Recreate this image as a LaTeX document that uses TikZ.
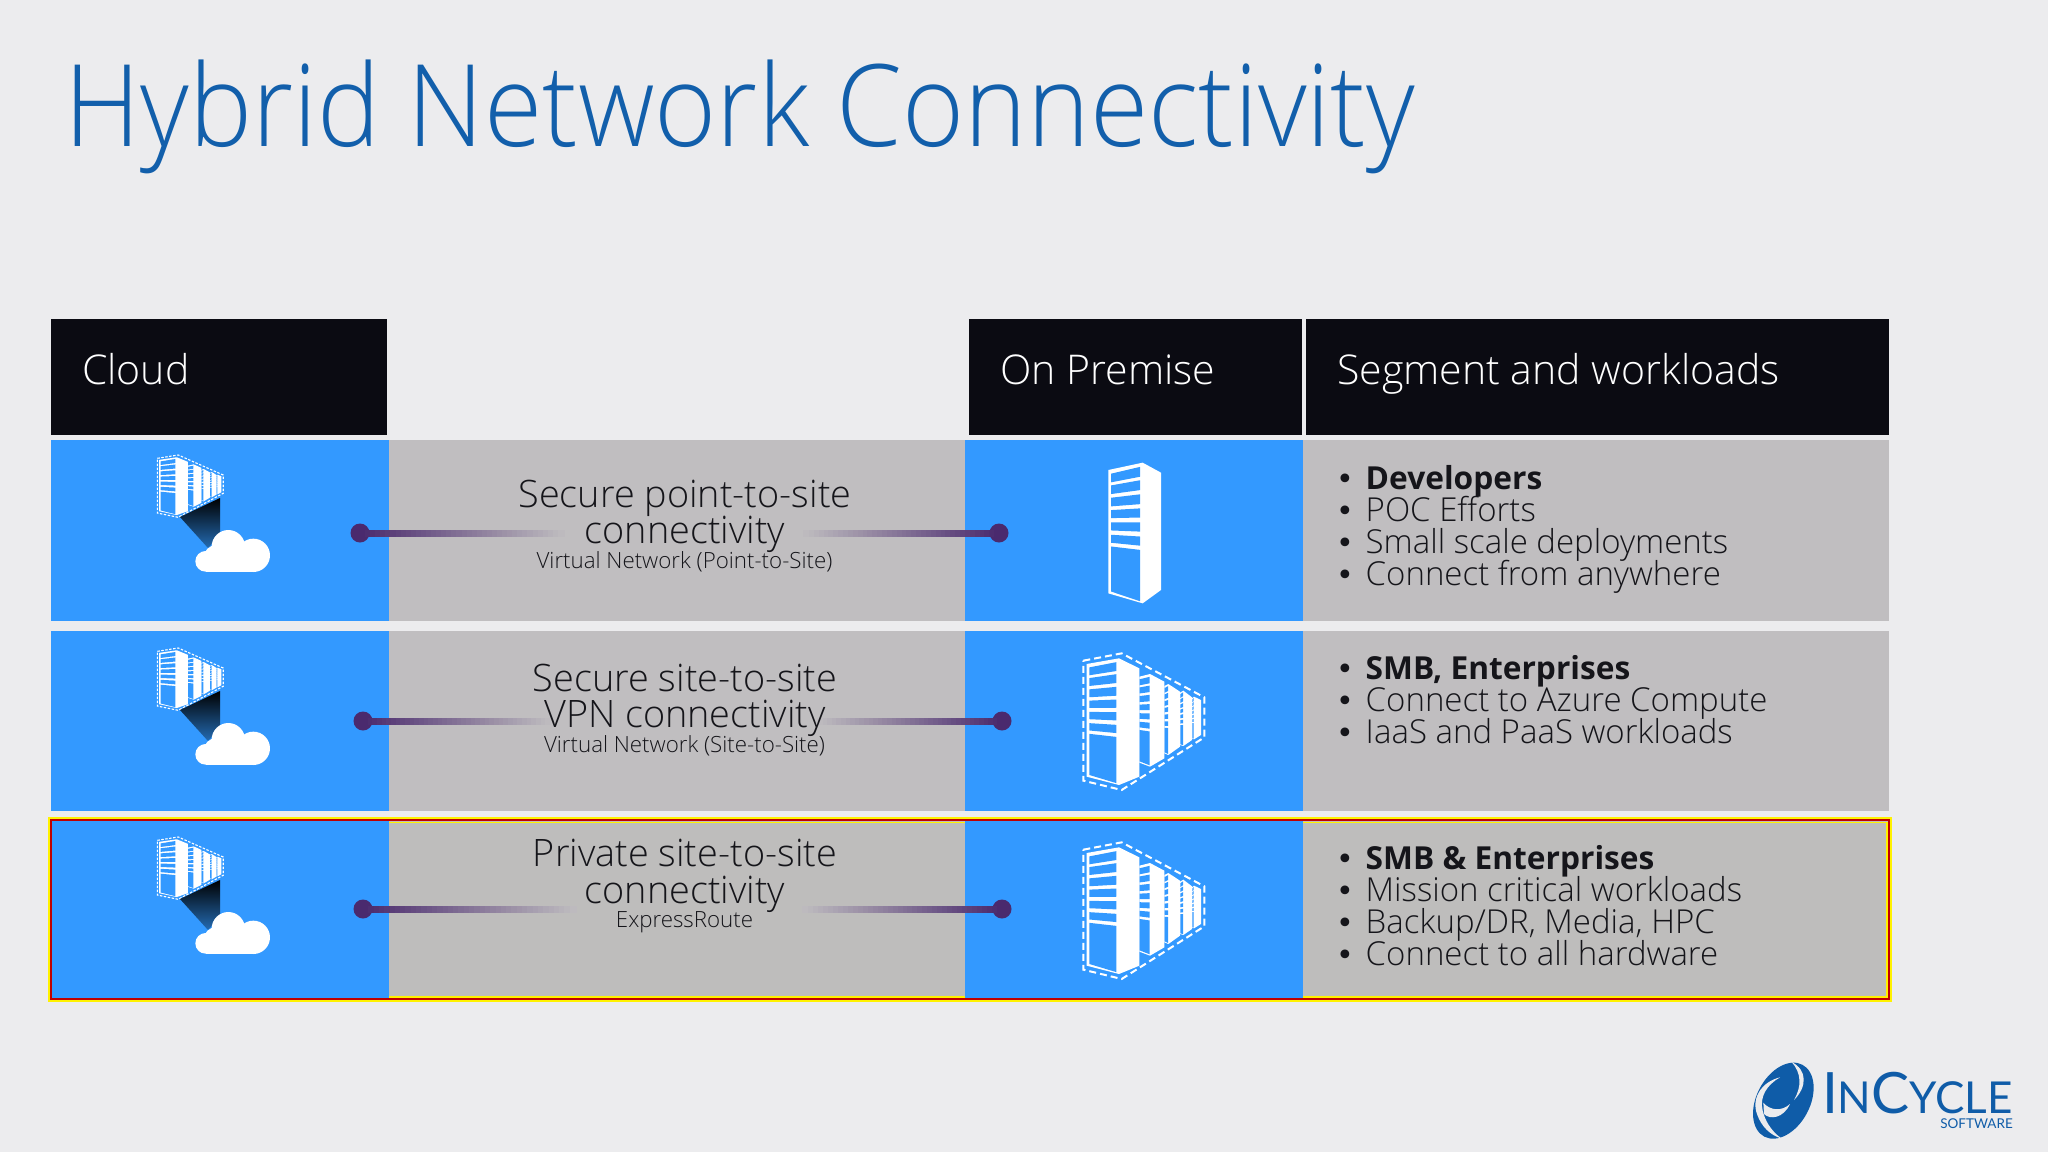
\documentclass[tikz,border=0pt]{standalone}
\usepackage{fontspec}
\usetikzlibrary{calc}
\setmainfont{Open Sans}
\newfontfamily\lightf{Open Sans Light}
\newfontfamily\titlef{Open Sans Light}[FakeStretch=0.93]
\newfontfamily\bullf{DejaVu Sans}
\newfontfamily\logof{Lato}
\definecolor{pagebg}{HTML}{ECECEE}
\definecolor{azure}{HTML}{3399FF}
\definecolor{band}{HTML}{C0BEC0}
\definecolor{bandhi}{HTML}{BEBDBC}
\definecolor{hdr}{HTML}{0B0B12}
\definecolor{titleblue}{HTML}{125FAB}
\definecolor{ink}{HTML}{15151A}
\definecolor{plum}{HTML}{4A2A6E}
\definecolor{logoblue}{HTML}{0F5CA8}
\newcommand{\rackicon}[9]{%
  \fill[white] (#1,#4)--(#2,#5)--(#3,#6)--(#3,#9)--(#2,#8)--(#1,#7)--cycle;
  \foreach \a/\b in {.03/.1,.125/.195,.225/.295,.325/.39,.425/.49,.525/.59,.62/.985}{%
    \fill[azure] ({#1+\rackinset},{#4+(#7-#4)*\a})--({#2-\rackinset},{#5+(#8-#5)*\a})--({#2-\rackinset},{#5+(#8-#5)*\b})--({#1+\rackinset},{#4+(#7-#4)*\b})--cycle;}}
\newcommand{\rackinset}{8}
\newcommand{\farm}[1]{%
  \draw[white,#1] (130,62)--(245,40)--(493,172)--(493,292)--(245,450)--(130,422)--cycle;
  \rackicon{140}{237}{298}{72}{55}{85}{410}{435}{410}
  \renewcommand{\rackinset}{1}
  \rackicon{298}{330}{373}{110}{102}{125}{368}{380}{355}
  \rackicon{373}{385}{420}{138}{132}{155}{340}{345}{320}
  \rackicon{420}{430}{456}{158}{152}{172}{315}{318}{300}
  \rackicon{456}{462}{483}{175}{170}{180}{295}{298}{285}
  \renewcommand{\rackinset}{8}}
\newcommand{\cloudicon}[1]{%
  \begin{scope}[shift={(0,#1)}]
    \begin{scope}[shift={(133.7,448.9)},xscale=.1817,yscale=.152]
      \farm{line width=1.1pt,dash pattern=on 2.5pt off 1.5pt}
    \end{scope}
    \shade[top color=black,middle color=black!78!azure,bottom color=azure!70!black] (180,517)--(220,498)--(220,535)--(208,548)--cycle;
    \begin{scope}[shift={(40,430)},scale=1/3]
      \fill[white] (565,350) circle[radius=50];
      \fill[white] (640,376) circle[radius=50];
      \fill[white] (497,394) circle[radius=31];
      \fill[white] (530,385) circle[radius=40];
      \fill[white] (497,385) rectangle (640,426);
    \end{scope}
  \end{scope}}
\newcommand{\fadelink}[2]{%
  \foreach \k in {0,...,39}{%
    \pgfmathsetmacro{\tA}{\k/40}
    \pgfmathsetmacro{\tB}{(\k+1.3)/40}
    \pgfmathsetmacro{\mixv}{100*(1-\k/40)}
    \draw[line width=7pt,draw=plum!\mixv!band] ($(#1)!\tA!(#2)$) -- ($(#1)!\tB!(#2)$);}}
\tikzset{
  head/.style={fill=hdr,inner sep=0,outer sep=0},
  headtxt/.style={text=white,font=\fontsize{41}{41}\selectfont\lightf,anchor=base west,inner sep=0},
  tile/.style={fill=azure},
  main/.style={text=ink,font=\fontsize{37.8}{37.8}\selectfont\lightf,anchor=base,inner sep=0},
  subt/.style={text=ink,font=\fontsize{22.3}{22.3}\selectfont\lightf,anchor=base,inner sep=0},
  points/.style={text=ink,font=\fontsize{33}{32}\selectfont\lightf,anchor=north west,inner sep=0,align=left,execute at begin node={\lineskiplimit=-100pt\relax\lineskip=0pt\relax}},
  dot/.style={circle,fill=plum,minimum size=19pt,inner sep=0,outer sep=0}
}
\newcommand{\bul}{\makebox[29.5pt][l]{{\bullf\fontsize{30}{32}\selectfont •}}}
\newcommand{\bld}[1]{{\rmfamily\bfseries\fontsize{31.7}{32}\selectfont #1}}
\begin{document}
\begin{tikzpicture}[x=1pt,y=-1pt]
\useasboundingbox (0,0) rectangle (2048,1152);
\fill[pagebg] (0,0) rectangle (2048,1152);
\node[text=titleblue,font=\fontsize{114}{114}\selectfont\titlef,anchor=base west,inner sep=0] (title) at (64,146) {Hybrid Network Connectivity};
% headers
\fill[head] (51,319) rectangle (387,435);
\fill[head] (969,319) rectangle (1302,435);
\fill[head] (1306,319) rectangle (1889,435);
\node[headtxt] (h1) at (82,384) {Cloud};
\node[headtxt] (h2) at (1000,384) {On Premise};
\node[headtxt] (h3) at (1337,384) {Segment and workloads};
% rows
\foreach \t/\b/\c in {440/621/band,631/811/band,820/999/bandhi}{
  \fill[tile] (51,\t) rectangle (389,\b);
  \fill[\c] (389,\t) rectangle (965,\b);
  \fill[tile] (965,\t) rectangle (1303,\b);
  \fill[\c] (1303,\t) rectangle (1889,\b);
}
% highlight
\draw[yellow,line width=4pt] (50,819) rectangle (1890,1000);
\draw[yellow,line width=1.5pt] (389,822.5) -- (965,822.5) (389,997) -- (965,997);
\draw[yellow,line width=1.5pt] (1303,822.5) -- (1887,822.5) -- (1887,997) -- (1303,997);
\draw[red!75!black,line width=2.5pt] (51,820) rectangle (1889,999);
% connectors
\node[dot] (a1) at (360,533) {};
\node[dot] (b1) at (999,533) {};
\coordinate (fa1) at (563,533); \coordinate (fb1) at (804,533);
\fadelink{a1}{fa1}\fadelink{b1}{fb1}
\node[dot] (a2) at (363,721) {};
\node[dot] (b2) at (1002,721) {};
\coordinate (fa2) at (550,721); \coordinate (fb2) at (818,721);
\fadelink{a2}{fa2}\fadelink{b2}{fb2}
\node[dot] (a3) at (363,909) {};
\node[dot] (b3) at (1002,909) {};
\coordinate (fa3) at (575,909); \coordinate (fb3) at (803,909);
\fadelink{a3}{fa3}\fadelink{b3}{fb3}
% mid text
\node[main] (m1a) at (685,507) {Secure point-to-site};
\node[main] (m1b) at (685,543) {connectivity};
\node[subt] (m1c) at (684.5,568) {Virtual Network (Point-to-Site)};
\node[main] (m2a) at (685,691) {Secure site-to-site};
\node[main] (m2b) at (685,727.5) {VPN connectivity};
\node[subt] (m2c) at (684.5,752) {Virtual Network (Site-to-Site)};
\node[main] (m3a) at (685,866) {Private site-to-site};
\node[main] (m3b) at (685,903) {connectivity};
\node[subt] (m3c) at (684.5,927) {ExpressRoute};
% bullets
\node[points] (p1) at (1336,465.5) {\bul\bld{Developers}\\\bul POC Efforts\\\bul Small scale deployments\\\bul Connect from anywhere};
\node[points] (p2) at (1336,655.5) {\bul\bld{SMB, Enterprises}\\\bul Connect to Azure Compute\\\bul IaaS and PaaS workloads};
\node[points] (p3) at (1336,845) {\bul\bld{SMB \& Enterprises}\\\bul Mission critical workloads\\\bul Backup/DR, Media, HPC\\\bul Connect to all hardware};
% icons
\cloudicon{0}\cloudicon{193}\cloudicon{382}
\begin{scope}[shift={(1040,440)},scale=1/3]
  \rackicon{205}{308}{363}{90}{68}{98}{460}{490}{450}
\end{scope}
\begin{scope}[shift={(1040,640)},scale=1/3]
  \farm{line width=2pt,dash pattern=on 7pt off 4pt}
\end{scope}
\begin{scope}[shift={(1040,829)},scale=1/3]
  \farm{line width=2pt,dash pattern=on 7pt off 4pt}
\end{scope}
% logo swirl
\begin{scope}[shift={(1720,1040)},scale=1/3]
  \fill[logoblue] (190,182) ellipse[x radius=122,y radius=80,rotate=62];
  \fill[pagebg] (215,66) .. controls (262,90) and (262,140) .. (222,180) .. controls (245,140) and (245,100) .. (215,66) -- cycle;
  \fill[pagebg] (180,112) .. controls (125,125) and (92,175) .. (112,225) .. controls (125,260) and (150,285) .. (185,296) .. controls (150,270) and (135,240) .. (128,212) .. controls (118,170) and (140,135) .. (180,112) -- cycle;
  \fill[pagebg] (130,188) .. controls (150,212) and (185,215) .. (210,192) .. controls (190,235) and (150,240) .. (132,222) -- cycle;
\end{scope}
% logo
\node[text=logoblue,font=\logof,anchor=base east,inner sep=0,text depth=0pt] (logo) at (2013,1113) {{\fontsize{57}{57}\selectfont I}{\fontsize{44}{44}\selectfont N}{\fontsize{57}{57}\selectfont C}{\fontsize{44}{44}\selectfont YCLE}};
\node[text=logoblue,font=\fontsize{13.5}{13.5}\selectfont\logof,anchor=base east,inner sep=0,text height=9pt,text depth=0pt] (logos) at (2013,1128) {SOFTWARE};
\end{tikzpicture}
\end{document}
